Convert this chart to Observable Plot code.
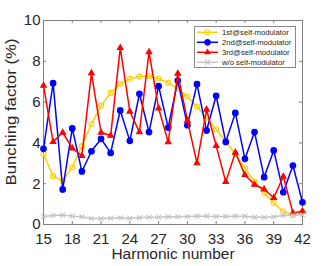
<!DOCTYPE html>
<html><head><meta charset="utf-8">
<script src="https://cdn.jsdelivr.net/npm/d3@7"></script>
<script src="https://cdn.jsdelivr.net/npm/@observablehq/plot@0.6"></script>
<style>
body{margin:0;background:#fff;}
#wrap{position:relative;width:332px;height:266px;font-family:"Liberation Sans",Arial,sans-serif;}
#legend{position:absolute;left:194px;top:26px;}
</style>
</head><body>
<div id="wrap"><div id="chart"></div><div id="legend"></div></div>
<script>
const harmonics = [15,16,17,18,19,20,21,22,23,24,25,26,27,28,29,30,31,32,33,34,35,36,37,38,39,40,41,42];
const first  = [3.46,2.37,2.14,2.81,3.84,4.93,5.82,6.45,6.90,7.14,7.25,7.27,7.16,6.94,6.65,6.26,5.78,5.23,4.67,4.08,3.45,2.76,2.09,1.54,1.05,0.64,0.47,0.62];
const second = [3.71,6.93,1.72,4.71,2.60,3.59,4.20,3.51,5.59,4.10,6.41,4.53,6.78,4.75,7.06,4.87,6.88,4.61,6.31,4.05,5.47,3.22,4.53,2.32,3.63,1.58,2.89,1.09];
const third  = [6.81,4.05,4.51,3.74,3.37,7.42,4.51,4.36,8.66,5.54,4.53,8.45,5.70,4.04,7.40,5.10,3.01,5.64,3.86,2.09,3.53,2.43,1.96,1.73,1.31,2.35,0.57,0.65];
const without = [0.39,0.44,0.46,0.41,0.38,0.29,0.29,0.31,0.33,0.31,0.33,0.36,0.36,0.38,0.38,0.39,0.41,0.41,0.39,0.39,0.41,0.41,0.36,0.36,0.38,0.44,0.47,0.47];
const seriesNames = ["1st@self-modulator","2nd@self-modulator","3rd@self-modulator","w/o self-modulator"];
const xTicks = [15,18,21,24,27,30,33,36,39,42];
const yTicks = [0,2,4,6,8,10];

const colors = ["#FFD000","#0000FF","#FF0000","#C4C4C4"];
const symbols = ["circle","circle","triangle","times"];
const fills = ["none","#0000FF","#FF0000","none"];
const radii = [2.5,2.8,2.1,2.3];
const seriesData = [first, second, third, without];

const W = 332, H = 266, mL = 43, mR = 30, mT = 20, mB = 42;
const pw = W - mL - mR, ph = H - mT - mB, tk = 3, axc = "#808080";

const marks = [
  Plot.frame({stroke: axc}),
  Plot.ruleX(xTicks, {x: d => d, insetTop: ph - tk, stroke: axc}),
  Plot.ruleX(xTicks, {x: d => d, insetBottom: ph - tk, stroke: axc}),
  Plot.ruleY(yTicks, {y: d => d, insetRight: pw - tk, stroke: axc}),
  Plot.ruleY(yTicks, {y: d => d, insetLeft: pw - tk, stroke: axc}),
  Plot.axisX(xTicks, {tickSize: 0, tickPadding: 9, label: null}),
  Plot.axisY(yTicks, {tickSize: 0, tickPadding: 3, label: null})
];
seriesData.forEach((vals, i) => {
  marks.push(Plot.line(vals, {x: harmonics, y: d => d, stroke: colors[i], strokeWidth: 1.5}));
  marks.push(Plot.dot(vals, {x: harmonics, y: d => d, symbol: symbols[i], r: radii[i], stroke: colors[i], fill: fills[i], strokeWidth: 1.1}));
});
marks.push(Plot.text(["Harmonic number"], {text: d => d, frameAnchor: "bottom", dy: 34, fontSize: 15.5, fill: "#262626"}));
marks.push(Plot.text(["Bunching factor (%)"], {text: d => d, frameAnchor: "left", textAnchor: "middle", rotate: -90, dx: -32, dy: -10.5, fontSize: 15, fill: "#262626", className: "ylab"}));

const chart = Plot.plot({
  width: W, height: H, marginLeft: mL, marginRight: mR, marginTop: mT, marginBottom: mB,
  style: {fontFamily: '"Liberation Sans", Arial, sans-serif', fontSize: "15px", color: "#262626", background: "white"},
  x: {domain: [15, 42]},
  y: {domain: [0, 10]},
  marks
});
d3.select(chart).selectAll(".ylab text").attr("textLength", 147).attr("lengthAdjust", "spacingAndGlyphs");
document.getElementById("chart").appendChild(chart);

// legend
const lw = 102, lh = 42;
const svg = d3.select("#legend").append("svg").attr("width", lw).attr("height", lh)
  .style("font-family", '"Liberation Sans", Arial, sans-serif');
svg.append("rect").attr("x", 0.5).attr("y", 0.5).attr("width", lw - 1).attr("height", lh - 1)
  .attr("fill", "white").attr("stroke", "#888");
seriesNames.forEach((name, i) => {
  const cy = 6.3 + i * 10;
  const g = svg.append("g");
  g.append("line").attr("x1", 3).attr("x2", 24).attr("y1", cy).attr("y2", cy)
    .attr("stroke", colors[i]).attr("stroke-width", 1.5);
  const sym = {circle: d3.symbolCircle, triangle: d3.symbolTriangle2, times: d3.symbolTimes}[symbols[i]];
  const area = {circle: Math.PI * radii[i] * radii[i], triangle: 16, times: 20}[symbols[i]];
  g.append("path").attr("d", d3.symbol(sym, area)()).attr("transform", `translate(13.5,${cy})`)
    .attr("fill", fills[i]).attr("stroke", colors[i]).attr("stroke-width", 1.1);
  g.append("text").attr("x", 28).attr("y", cy).attr("dy", "0.35em")
    .attr("font-size", 7.7).attr("fill", "#262626").text(name);
});
</script>
</body></html>
